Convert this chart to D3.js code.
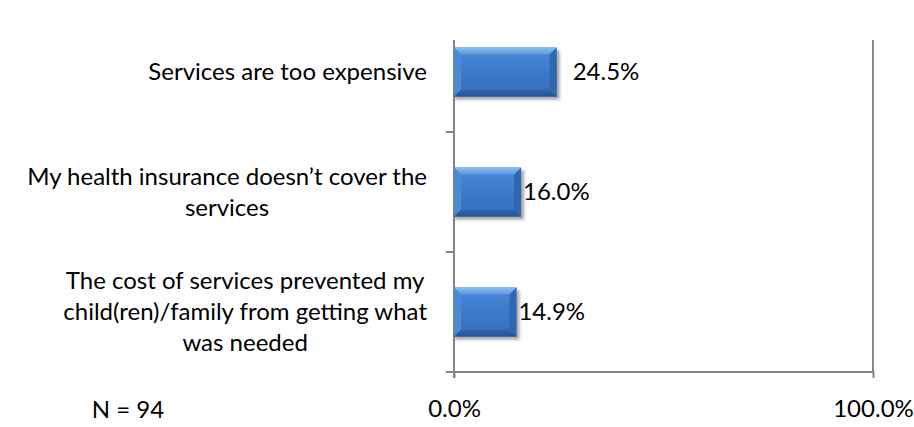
<!DOCTYPE html>
<html>
<head>
<meta charset="utf-8">
<script src="https://cdn.jsdelivr.net/npm/d3@7"></script>
<style>
  html, body { margin: 0; padding: 0; background: #fff; }
  svg text { font-family: Lato, "Open Sans", sans-serif; fill: #000; }
</style>
</head>
<body>
<div id="chart"></div>
<script>
const categories = [
  'Services are too expensive',
  'My health insurance doesn\u2019t cover the services',
  'The cost of services prevented my child(ren)/family from getting what was needed'
]
// label lines as wrapped in the picture
const categoryLines = [
  ['Services are too expensive'],
  ['My health insurance doesn\u2019t cover the', 'services'],
  ['The cost of services prevented my', 'child(ren)/family from getting what', 'was needed']
]
const values = [24.5, 16.0, 14.9]
const xTicks = [0, 100]
const note = 'N = 94'

const W = 914
const H = 427
const plot = { left: 454, right: 873, top: 12, bottom: 372, lineTop: 40 }
const AXIS = '#868686'
const FONT = '24px'

const svg = d3.select('#chart').append('svg')
  .attr('width', W)
  .attr('height', H)

// =================== gradients / filters =================
const defs = svg.append('defs')
const grad = (id, stops) => {
  const g = defs.append('linearGradient').attr('id', id)
    .attr('x1', 0).attr('y1', 0).attr('x2', 0).attr('y2', 1)
  stops.forEach(s => g.append('stop').attr('offset', s[0]).attr('stop-color', s[1]))
}
grad('face', [[0, '#4a8ad6'], [0.5, '#3c7bcb'], [1, '#346fbd']])
grad('bevTop', [[0, '#8dbdf2'], [1, '#5d98df']])
grad('bevBot', [[0, '#2f67ae'], [1, '#25528e']])
defs.append('filter').attr('id', 'shadow')
  .attr('x', '-10%').attr('y', '-20%').attr('width', '130%').attr('height', '160%')
  .append('feGaussianBlur').attr('stdDeviation', 1.6)

// =================== scales =================
const x = d3.scaleLinear()
  .domain([0, 100])
  .range([plot.left, plot.right])

const y = d3.scaleBand()
  .domain(categories)
  .range([plot.top, plot.bottom])
  .paddingInner(0.59)
  .paddingOuter(0.295)

const step = y.step()
const bandStart = d => plot.top + categories.indexOf(d) * step

// 100% gridline
svg.append('line')
  .attr('x1', x(100)).attr('x2', x(100))
  .attr('y1', plot.lineTop).attr('y2', plot.bottom)
  .attr('stroke', AXIS).attr('stroke-width', 2)

// =================== x axis =================
const xAxis = d3.axisBottom(x)
  .tickValues(xTicks)
  .tickFormat(d => d3.format('.1f')(d) + '%')
  .tickSize(6)
  .tickPadding(22)

const gx = svg.append('g')
  .attr('transform', `translate(0,${plot.bottom})`)
  .call(xAxis)
gx.select('.domain').remove()
gx.selectAll('line').attr('stroke', AXIS).attr('stroke-width', 2)
gx.selectAll('text')
  .style('font-size', FONT)
  .style('font-family', 'Lato, sans-serif')
  .attr('fill', '#000')

svg.append('line')
  .attr('x1', plot.left - 8).attr('x2', x(100))
  .attr('y1', plot.bottom).attr('y2', plot.bottom)
  .attr('stroke', AXIS).attr('stroke-width', 2)

// =================== y axis =================
svg.append('line')
  .attr('x1', plot.left).attr('x2', plot.left)
  .attr('y1', plot.lineTop).attr('y2', plot.bottom + 6)
  .attr('stroke', AXIS).attr('stroke-width', 2)

categories.slice(1).forEach(c => {
  svg.append('line')
    .attr('x1', plot.left - 8).attr('x2', plot.left)
    .attr('y1', bandStart(c)).attr('y2', bandStart(c))
    .attr('stroke', AXIS).attr('stroke-width', 2)
})

// category labels: block right-aligned, lines centred
const labelRight = 427
const lineH = 31
categories.forEach((c, i) => {
  const lines = categoryLines[i]
  const g = svg.append('g')
  const cy = y(c) + y.bandwidth() / 2
  const texts = lines.map((t, j) => g.append('text')
    .text(t)
    .attr('y', cy + (j - (lines.length - 1) / 2) * lineH)
    .attr('dy', '0.35em')
    .attr('text-anchor', 'middle')
    .style('font-size', FONT))
  const maxW = d3.max(texts, t => t.node().getComputedTextLength())
  texts.forEach(t => t.attr('x', labelRight - maxW / 2))
})

// =================== bars =================
const b = 7
categories.forEach((c, i) => {
  const x0 = x(0)
  const x1 = x(values[i])
  const y0 = y(c)
  const y1 = y0 + y.bandwidth()
  const g = svg.append('g')

  g.append('rect')
    .attr('x', x0 + 1).attr('y', y0 + 3)
    .attr('width', x1 - x0 + 2).attr('height', y1 - y0)
    .attr('fill', '#000').attr('opacity', 0.35)
    .attr('filter', 'url(#shadow)')

  g.append('rect')
    .attr('x', x0).attr('y', y0)
    .attr('width', x1 - x0).attr('height', y1 - y0)
    .attr('fill', 'url(#face)')

  const poly = (pts, fill) => g.append('polygon')
    .attr('points', pts.map(p => p.join(',')).join(' '))
    .attr('fill', fill)

  poly([[x0, y0], [x1, y0], [x1 - b, y0 + b], [x0 + b, y0 + b]], 'url(#bevTop)')
  poly([[x0, y1], [x1, y1], [x1 - b, y1 - b], [x0 + b, y1 - b]], 'url(#bevBot)')
  poly([[x0, y0], [x0 + b, y0 + b], [x0 + b, y1 - b], [x0, y1]], '#4d8ad4')
  poly([[x1, y0], [x1 - b, y0 + b], [x1 - b, y1 - b], [x1, y1]], '#2f68b0')

  g.append('text')
    .text(d3.format('.1f')(values[i]) + '%')
    .attr('x', x1 + (i === 0 ? 16 : 2))
    .attr('y', y0 + y.bandwidth() / 2)
    .attr('dy', '0.35em')
    .style('font-size', FONT)
})

// sample size note
svg.append('text')
  .text(note)
  .attr('x', 128)
  .attr('y', plot.bottom + 38)
  .attr('dy', '0.35em')
  .attr('text-anchor', 'middle')
  .style('font-size', FONT)
</script>
</body>
</html>
